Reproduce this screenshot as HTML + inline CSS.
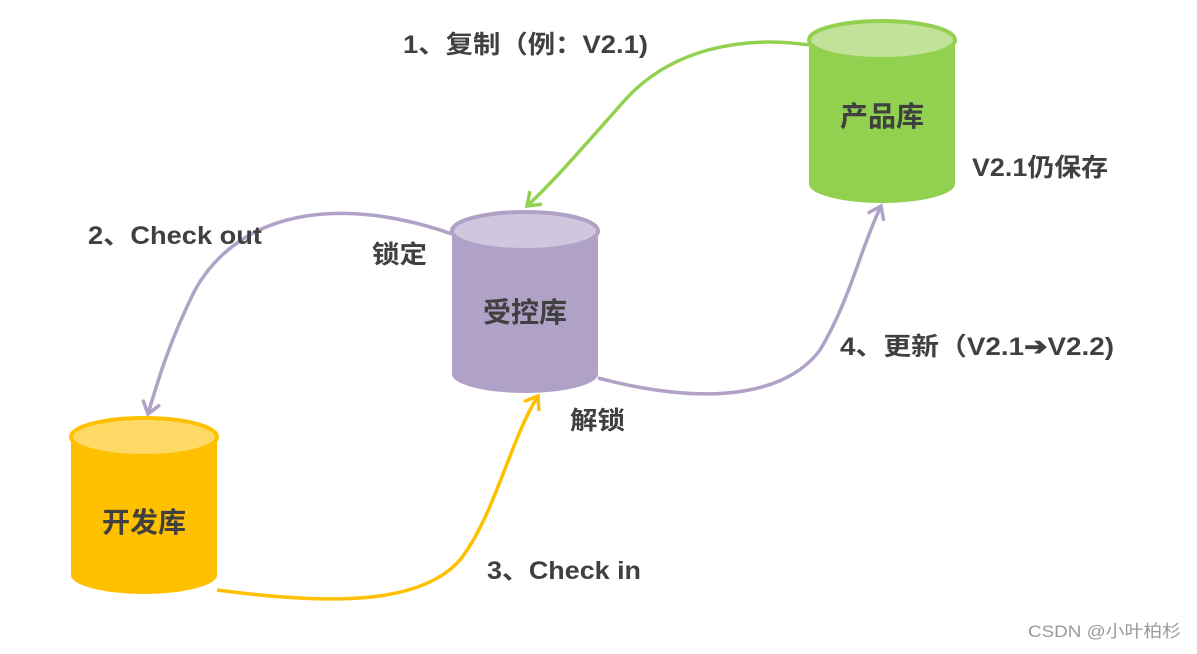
<!DOCTYPE html>
<html><head><meta charset="utf-8"><style>
body{margin:0;background:#fff;width:1197px;height:649px;overflow:hidden}
text{font-family:"Liberation Sans","Noto Sans CJK SC",sans-serif;font-weight:bold;fill:#404040}
</style></head><body>
<svg width="1197" height="649" viewBox="0 0 1197 649" xmlns="http://www.w3.org/2000/svg">
<defs>
<marker id="ag" markerWidth="20" markerHeight="20" refX="14" refY="10" orient="auto" markerUnits="userSpaceOnUse"><path d="M3,2 L14,10 L3,18" fill="none" stroke="#92D050" stroke-width="3.5" stroke-linecap="round"/></marker>
<marker id="ap" markerWidth="20" markerHeight="20" refX="14" refY="10" orient="auto" markerUnits="userSpaceOnUse"><path d="M3,2 L14,10 L3,18" fill="none" stroke="#B0A2C7" stroke-width="3.5" stroke-linecap="round"/></marker>
<marker id="ay" markerWidth="20" markerHeight="20" refX="14" refY="10" orient="auto" markerUnits="userSpaceOnUse"><path d="M3,2 L14,10 L3,18" fill="none" stroke="#FFC000" stroke-width="3.5" stroke-linecap="round"/></marker>
</defs>
<g fill="none" stroke-width="3.5">
<path d="M809,45 C740,35 670,50 625,100 C585,145 555,180 527,206" stroke="#92D050" marker-end="url(#ag)"/>
<path d="M452,234 C340,195 240,210 195,290 C170,340 158,380 148,414" stroke="#B0A2C7" marker-end="url(#ap)"/>
<path d="M217,590 C330,605 420,605 460,560 C495,515 510,440 538,396" stroke="#FFC000" marker-end="url(#ay)"/>
<path d="M598,378 C720,410 790,390 820,350 C850,300 860,250 881,206" stroke="#B0A2C7" marker-end="url(#ap)"/>
</g>
<path d="M809,40 V184 A73,19 0 0 0 955,184 V40z" fill="#92D050"/>
<ellipse cx="882" cy="40" rx="73" ry="19" fill="#C2E29A" stroke="#92D050" stroke-width="4"/>
<text x="882" y="126" font-size="28" text-anchor="middle">产品库</text>
<path d="M452,231 V374 A73,19 0 0 0 598,374 V231z" fill="#B0A2C7"/>
<ellipse cx="525" cy="231" rx="73" ry="19" fill="#D0C6DD" stroke="#B0A2C7" stroke-width="4"/>
<text x="525" y="322" font-size="28" text-anchor="middle">受控库</text>
<path d="M71,437 V575 A73,19 0 0 0 217,575 V437z" fill="#FFC000"/>
<ellipse cx="144" cy="437" rx="73" ry="19" fill="#FFD966" stroke="#FFC000" stroke-width="4"/>
<text x="144" y="532" font-size="28" text-anchor="middle">开发库</text>
<g font-size="25">
<text x="403" y="53" textLength="245" lengthAdjust="spacingAndGlyphs">1、复制（例：V2.1)</text>
<text x="972" y="176" textLength="136" lengthAdjust="spacingAndGlyphs">V2.1仍保存</text>
<text x="88" y="244" textLength="174" lengthAdjust="spacingAndGlyphs">2、Check out</text>
<text x="372" y="263" textLength="55" lengthAdjust="spacingAndGlyphs">锁定</text>
<text x="840" y="355" textLength="274" lengthAdjust="spacingAndGlyphs">4、更新（V2.1➔V2.2)</text>
<text x="570" y="429" textLength="55" lengthAdjust="spacingAndGlyphs">解锁</text>
<text x="487" y="579" textLength="154" lengthAdjust="spacingAndGlyphs">3、Check in</text>
</g>
<text x="1028" y="637" font-size="17" style="font-weight:normal;fill:#999" textLength="153" lengthAdjust="spacingAndGlyphs">CSDN @小叶柏杉</text>
</svg>
</body></html>
